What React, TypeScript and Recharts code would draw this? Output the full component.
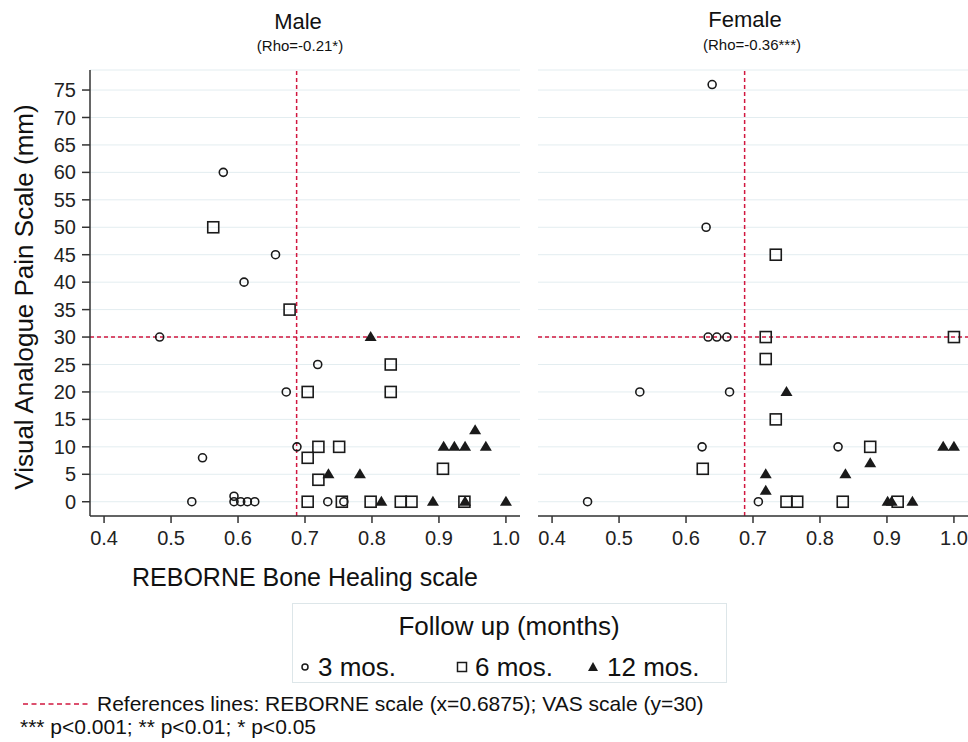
import React from 'react';
import {
  ScatterChart,
  Scatter,
  XAxis,
  YAxis,
  CartesianGrid,
  ReferenceLine,
} from 'recharts';

const FONT = '"Liberation Sans", Arial, sans-serif';
const INK = '#1a1a1a';
const AXIS = '#333333';
const GRID = '#e3edf0';
const REF_RED = '#d1173f';

const X_TICKS = [0.4, 0.5, 0.6, 0.7, 0.8, 0.9, 1.0];
const Y_TICKS = [0, 5, 10, 15, 20, 25, 30, 35, 40, 45, 50, 55, 60, 65, 70, 75];
const REBORNE_CUT = 0.6875;
const VAS_CUT = 30;

// Male
const male3X = [0.578, 0.656, 0.609, 0.483, 0.719, 0.672, 0.688, 0.547, 0.531, 0.594, 0.594, 0.604, 0.614, 0.625, 0.734, 0.758];
const male3Y = [60, 45, 40, 30, 25, 20, 10, 8, 0, 1, 0, 0, 0, 0, 0, 0];
const male6X = [0.563, 0.677, 0.828, 0.828, 0.704, 0.72, 0.751, 0.704, 0.72, 0.906, 0.704, 0.755, 0.798, 0.843, 0.859, 0.938];
const male6Y = [50, 35, 25, 20, 20, 10, 10, 8, 4, 6, 0, 0, 0, 0, 0, 0];
const male12X = [0.798, 0.954, 0.907, 0.923, 0.939, 0.97, 0.735, 0.782, 0.814, 0.891, 0.939, 1.0];
const male12Y = [30, 13, 10, 10, 10, 10, 5, 5, 0, 0, 0, 0];

// Female
const female3X = [0.639, 0.63, 0.633, 0.646, 0.661, 0.531, 0.665, 0.624, 0.827, 0.453, 0.708];
const female3Y = [76, 50, 30, 30, 30, 20, 20, 10, 10, 0, 0];
const female6X = [0.734, 0.719, 1.0, 0.719, 0.734, 0.875, 0.625, 0.75, 0.766, 0.834, 0.916];
const female6Y = [45, 30, 30, 26, 15, 10, 6, 0, 0, 0, 0];
const female12X = [0.75, 0.875, 0.719, 0.838, 0.719, 0.901, 0.907, 0.938, 0.984, 1.0];
const female12Y = [20, 7, 5, 5, 2, 0, 0, 0, 10, 10];

const toPoints = (xs: number[], ys: number[]) => xs.map((x, i) => ({ x, y: ys[i] }));

const CircleMark = (props: any) => {
  const { cx, cy } = props;
  if (cx == null || cy == null) return null;
  return <circle cx={cx} cy={cy} r={4} fill="none" stroke={INK} strokeWidth={1.6} />;
};

const SquareMark = (props: any) => {
  const { cx, cy } = props;
  if (cx == null || cy == null) return null;
  return <rect x={cx - 5.5} y={cy - 5.5} width={11} height={11} fill="none" stroke={INK} strokeWidth={1.6} />;
};

const TriangleMark = (props: any) => {
  const { cx, cy } = props;
  if (cx == null || cy == null) return null;
  return <polygon points={`${cx - 6},${cy + 4} ${cx + 6},${cy + 4} ${cx},${cy - 6}`} fill={INK} />;
};

const tickStyle = { fill: '#222', fontSize: 20, fontFamily: FONT };

interface PanelProps {
  three: { x: number; y: number }[];
  six: { x: number; y: number }[];
  twelve: { x: number; y: number }[];
  showY: boolean;
  width: number;
}

function Panel({ three, six, twelve, showY, width }: PanelProps) {
  return (
    <ScatterChart width={width} height={560} margin={{ top: 70, right: showY ? 5 : 0, left: 0, bottom: 0 }}>
      <CartesianGrid vertical={false} stroke={GRID} strokeWidth={1} />
      <XAxis
        type="number"
        dataKey="x"
        domain={[0.379, 1.021]}
        ticks={X_TICKS}
        interval={0}
        allowDataOverflow
        tickFormatter={(v: number) => v.toFixed(1)}
        tick={tickStyle}
        tickSize={7}
        tickMargin={8}
        height={44}
        axisLine={{ stroke: AXIS, strokeWidth: 1.5 }}
        tickLine={{ stroke: AXIS, strokeWidth: 1.5 }}
      />
      <YAxis
        type="number"
        dataKey="y"
        domain={[-2.6, 78.65]}
        ticks={Y_TICKS}
        interval={0}
        allowDataOverflow
        hide={!showY}
        width={90}
        tick={tickStyle}
        tickSize={8}
        tickMargin={6}
        axisLine={{ stroke: AXIS, strokeWidth: 1.5 }}
        tickLine={{ stroke: AXIS, strokeWidth: 1.5 }}
      />
      <ReferenceLine x={REBORNE_CUT} stroke={REF_RED} strokeWidth={1.5} strokeDasharray="4 3" />
      <ReferenceLine y={VAS_CUT} stroke={REF_RED} strokeWidth={1.5} strokeDasharray="4 3" />
      <Scatter data={three} shape={CircleMark} isAnimationActive={false} />
      <Scatter data={six} shape={SquareMark} isAnimationActive={false} />
      <Scatter data={twelve} shape={TriangleMark} isAnimationActive={false} />
    </ScatterChart>
  );
}

const Text = ({ x, y, size, children, rotate }: any) => (
  <div
    style={{
      position: 'absolute',
      left: x,
      top: y,
      transform: `translate(-50%, -50%)${rotate ? ' rotate(-90deg)' : ''}`,
      whiteSpace: 'nowrap',
      fontSize: size,
      color: '#111',
      lineHeight: 1,
    }}
  >
    {children}
  </div>
);

export default function App() {
  return (
    <div
      style={{
        position: 'absolute',
        left: 0,
        top: 0,
        width: 968,
        height: 742,
        background: '#fff',
        fontFamily: FONT,
        overflow: 'hidden',
      }}
    >
      <div style={{ position: 'absolute', left: 0, top: 0 }}>
        <Panel three={toPoints(male3X, male3Y)} six={toPoints(male6X, male6Y)} twelve={toPoints(male12X, male12Y)} showY width={525} />
      </div>
      <div style={{ position: 'absolute', left: 538, top: 0 }}>
        <Panel three={toPoints(female3X, female3Y)} six={toPoints(female6X, female6Y)} twelve={toPoints(female12X, female12Y)} showY={false} width={430} />
      </div>

      <Text x={298} y={22} size={22}>Male</Text>
      <Text x={300} y={45} size={15}>(Rho=-0.21*)</Text>
      <Text x={745} y={20} size={22}>Female</Text>
      <Text x={752} y={44} size={15}>(Rho=-0.36***)</Text>

      <Text x={24} y={297} size={26} rotate>Visual Analogue Pain Scale (mm)</Text>
      <Text x={305} y={577} size={25}>REBORNE Bone Healing scale</Text>

      <div
        style={{
          position: 'absolute',
          left: 292,
          top: 603,
          width: 435,
          height: 80,
          boxSizing: 'border-box',
          border: '1px solid #dde6e9',
        }}
      />
      <Text x={509} y={626} size={26}>Follow up (months)</Text>
      <svg style={{ position: 'absolute', left: 0, top: 0 }} width={968} height={742}>
        <circle cx={305} cy={667} r={3} fill="none" stroke={INK} strokeWidth={1.5} />
        <rect x={457.5} y={662.5} width={9} height={9} fill="none" stroke={INK} strokeWidth={1.5} />
        <polygon points="588,671 598,671 593,662" fill={INK} />
        <line x1={23} y1={704} x2={91} y2={704} stroke={REF_RED} strokeWidth={1.5} strokeDasharray="5 3.5" />
      </svg>
      <div style={{ position: 'absolute', left: 318, top: 654, fontSize: 26, lineHeight: 1, color: '#111' }}>3 mos.</div>
      <div style={{ position: 'absolute', left: 475, top: 654, fontSize: 26, lineHeight: 1, color: '#111' }}>6 mos.</div>
      <div style={{ position: 'absolute', left: 607, top: 654, fontSize: 26, lineHeight: 1, color: '#111' }}>12 mos.</div>

      <div style={{ position: 'absolute', left: 97, top: 693, fontSize: 21, lineHeight: 1, color: '#111', whiteSpace: 'nowrap' }}>
        References lines: REBORNE scale (x=0.6875); VAS scale (y=30)
      </div>
      <div style={{ position: 'absolute', left: 20, top: 716, fontSize: 21, lineHeight: 1, color: '#111', whiteSpace: 'nowrap' }}>
        *** p&lt;0.001; ** p&lt;0.01; * p&lt;0.05
      </div>
    </div>
  );
}
